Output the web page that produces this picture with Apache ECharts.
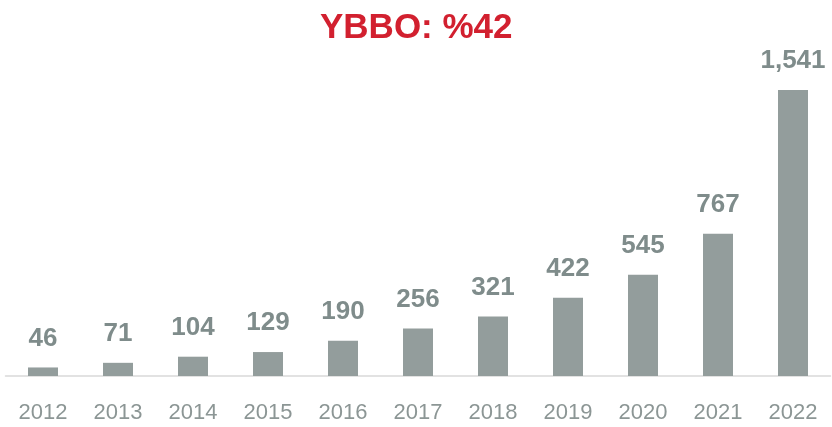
<!DOCTYPE html>
<html><head><meta charset="utf-8">
<script src="https://cdn.jsdelivr.net/npm/echarts@6/dist/echarts.min.js"></script>
<style>html,body{margin:0;padding:0;background:#fff}#c{width:832px;height:427px}</style>
</head><body><div id="c"></div>
<script>
const titleText = 'YBBO: %42';
const years = ['2012','2013','2014','2015','2016','2017','2018','2019','2020','2021','2022'];
const values = [46,71,104,129,190,256,321,422,545,767,1541];
const chart = echarts.init(document.getElementById('c'));
chart.setOption({
  animation:false,
  title:{text:titleText,left:315,top:6,textStyle:{color:'#d2202f',fontSize:35,fontWeight:'bold',fontFamily:'Liberation Sans'}},
  grid:{left:5.5,right:1.5,top:90,bottom:51,containLabel:false},
  xAxis:{type:'category',data:years,axisLine:{lineStyle:{color:'#d9d9d9',width:1.5}},axisTick:{show:false},
    axisLabel:{color:'#8c9695',fontSize:22,fontFamily:'Liberation Sans',margin:26}},
  yAxis:{type:'value',min:0,max:1541,show:false,splitLine:{show:false}},
  series:[{type:'bar',data:values,barWidth:30,itemStyle:{color:'#939d9c'},
    label:{show:true,position:'top',distance:16,color:'#7f8c8b',fontSize:26,fontWeight:'bold',fontFamily:'Liberation Sans',
      formatter:p=>p.value.toLocaleString('en-US')}}]
});
</script></body></html>
